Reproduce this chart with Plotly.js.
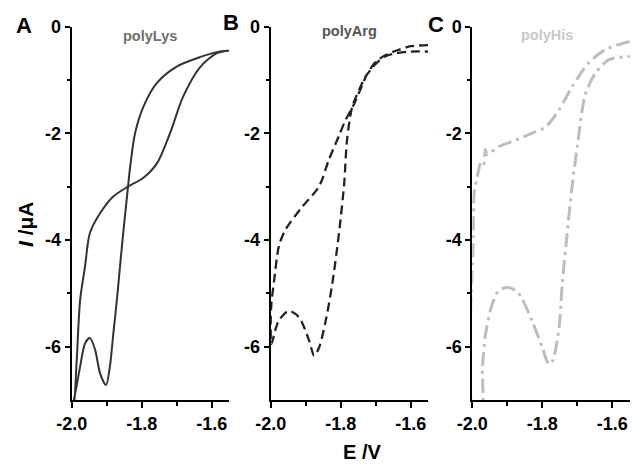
<!DOCTYPE html>
<html>
<head>
<meta charset="utf-8">
<script src="https://cdn.plot.ly/plotly-3.0.1.min.js"></script>
<style>html,body{margin:0;padding:0;background:#fff;}#chart{width:632px;height:465px;}</style>
</head>
<body>
<div id="chart"></div>
<script>
// Panel A: polyLys (closed loop, outer branch then inner branch)
const lysE = [-1.55, -1.585, -1.632, -1.70, -1.757, -1.795, -1.819, -1.833, -1.843, -1.853, -1.862, -1.871, -1.881, -1.891, -1.902, -1.919, -1.933, -1.948, -1.962, -1.976, -1.988, -1.997,
              -1.995, -1.986, -1.976, -1.962, -1.948, -1.919, -1.882, -1.839, -1.796, -1.756, -1.719, -1.682, -1.633, -1.585, -1.55];
const lysI = [-0.45, -0.48, -0.57, -0.75, -1.06, -1.5, -2.0, -2.63, -3.25, -3.88, -4.5, -5.13, -5.75, -6.38, -6.72, -6.5, -6.06, -5.84, -5.94, -6.38, -6.81, -7.15,
              -7.15, -6.3, -5.13, -4.5, -3.87, -3.5, -3.19, -3.0, -2.84, -2.56, -2.0, -1.32, -0.76, -0.5, -0.45];

// Panel B: polyArg
const argE = [-1.55, -1.60, -1.64, -1.67, -1.70, -1.725, -1.745, -1.765, -1.786, -1.805, -1.834, -1.862, -1.91, -1.957, -1.976, -1.99, -1.998, -2.0, -1.998,
              -1.985, -1.976, -1.948, -1.919, -1.89, -1.876, -1.862, -1.843, -1.824, -1.805, -1.79, -1.782, -1.767, -1.748, -1.73, -1.70, -1.67, -1.64, -1.60, -1.55];
const argI = [-0.35, -0.37, -0.45, -0.53, -0.66, -0.9, -1.2, -1.5, -1.75, -2.05, -2.5, -3.0, -3.38, -3.8, -4.1, -4.75, -5.2, -5.5, -5.95,
              -5.65, -5.5, -5.33, -5.45, -5.89, -6.17, -6.02, -5.52, -4.82, -3.88, -2.94, -2.13, -1.5, -1.2, -0.95, -0.7, -0.55, -0.5, -0.47, -0.47];

// Panel C: polyHis
const hisE = [-1.55, -1.619, -1.667, -1.714, -1.752, -1.79, -1.829, -1.876, -1.924, -1.952, -1.958, -1.963, -1.968, -1.975, -1.986, -1.995, -1.997, -1.997,
              -1.974, -1.971, -1.962, -1.943, -1.924, -1.895, -1.867, -1.829, -1.80, -1.781, -1.771, -1.752, -1.743, -1.729, -1.714, -1.695, -1.686, -1.676, -1.648, -1.609, -1.55];
const hisI = [-0.28, -0.43, -0.68, -1.12, -1.56, -1.88, -2.0, -2.13, -2.25, -2.38, -2.4, -2.3, -2.6, -2.55, -2.82, -3.13, -3.9, -7.15,
              -7.15, -6.39, -5.76, -5.2, -4.95, -4.89, -5.01, -5.52, -6.02, -6.33, -6.27, -5.64, -4.82, -3.88, -2.94, -2.0, -1.56, -1.25, -0.87, -0.62, -0.56];

const xTickVals = [-2.0, -1.8, -1.6];
const xTickText = ['-2.0', '-1.8', '-1.6'];
const yTickVals = [0, -2, -4, -6];
const yTickText = ['0', '-2', '-4', '-6'];
const panelLetters = ['A', 'B', 'C'];
const panelTitles = ['polyLys', 'polyArg', 'polyHis'];

const FONT = 'Liberation Sans, Arial, sans-serif';
const traces = [
  {x: lysE, y: lysI, xaxis: 'x', yaxis: 'y', mode: 'lines', line: {color: '#333333', width: 2, shape: 'spline', smoothing: 0.8}},
  {x: argE, y: argI, xaxis: 'x2', yaxis: 'y2', mode: 'lines', line: {color: '#222222', width: 2.3, shape: 'spline', smoothing: 0.8, dash: '9px,5px'}},
  {x: hisE, y: hisI, xaxis: 'x3', yaxis: 'y3', mode: 'lines', line: {color: '#bdbdbd', width: 3, shape: 'spline', smoothing: 0.8, dash: '14px,5px,3px,5px'}}
];

const W = 632, H = 465;
const xDomains = [[71.7/W, 229.2/W], [270.7/W, 428.2/W], [472.3/W, 629.8/W]];
const yDomain = [1 - 400/H, 1 - 26.5/H];

function xAxis(i) {
  return {
    domain: xDomains[i], range: [-2.0, -1.55], anchor: i === 0 ? 'y' : 'y' + (i + 1),
    showgrid: false, zeroline: false, showline: true, linecolor: '#000', linewidth: 2,
    ticks: 'outside', ticklen: 6, tickwidth: 2, tickcolor: '#000',
    tickvals: xTickVals, ticktext: xTickText,
    minor: {ticks: 'outside', ticklen: 4, tickwidth: 2, tickcolor: '#000', tickvals: [-1.9, -1.7]},
    tickfont: {family: FONT, size: 18, color: '#000', weight: 'bold'}, fixedrange: true
  };
}
function yAxis(i) {
  return {
    domain: yDomain, range: [-7, 0], anchor: i === 0 ? 'x' : 'x' + (i + 1),
    showgrid: false, zeroline: false, showline: true, linecolor: '#000', linewidth: 2,
    ticks: 'outside', ticklen: 5, tickwidth: 2, tickcolor: '#000',
    tickvals: yTickVals, ticktext: yTickText,
    minor: {ticks: 'outside', ticklen: 3, tickwidth: 2, tickcolor: '#000', tickvals: [-1, -3, -5]},
    tickfont: {family: FONT, size: 18, color: '#000', weight: 'bold'}, fixedrange: true
  };
}

const letterPos = [[24, 26], [231, 22], [436, 24]];
const titlePos = [[150, 36], [350, 31], [547, 35]];
const titleColors = ['#707070', '#555555', '#c8c8c8'];
const annotations = [];
for (let i = 0; i < 3; i++) {
  annotations.push({xref: 'paper', yref: 'paper', x: letterPos[i][0]/W, y: 1 - letterPos[i][1]/H,
    text: panelLetters[i], showarrow: false, xanchor: 'center', yanchor: 'middle',
    font: {family: FONT, size: 22, color: '#000', weight: 'bold'}});
  annotations.push({xref: 'paper', yref: 'paper', x: titlePos[i][0]/W, y: 1 - titlePos[i][1]/H,
    text: panelTitles[i], showarrow: false, xanchor: 'center', yanchor: 'middle',
    font: {family: FONT, size: 14.5, color: titleColors[i], weight: 'bold'}});
}
annotations.push({xref: 'paper', yref: 'paper', x: 25/W, y: 1 - 224/H, text: '<i>I</i> /μA', textangle: -90,
  showarrow: false, xanchor: 'center', yanchor: 'middle', font: {family: FONT, size: 21, color: '#000', weight: 'bold'}});
annotations.push({xref: 'paper', yref: 'paper', x: 362/W, y: 1 - 452/H, text: 'E /V',
  showarrow: false, xanchor: 'center', yanchor: 'middle', font: {family: FONT, size: 20, color: '#000', weight: 'bold'}});

const layout = {
  width: W, height: H, margin: {l: 0, r: 0, t: 0, b: 0},
  paper_bgcolor: '#fff', plot_bgcolor: '#fff', showlegend: false,
  xaxis: xAxis(0), xaxis2: xAxis(1), xaxis3: xAxis(2),
  yaxis: yAxis(0), yaxis2: yAxis(1), yaxis3: yAxis(2),
  annotations: annotations
};
Plotly.newPlot('chart', traces, layout, {staticPlot: true, displayModeBar: false});
</script>
</body>
</html>
